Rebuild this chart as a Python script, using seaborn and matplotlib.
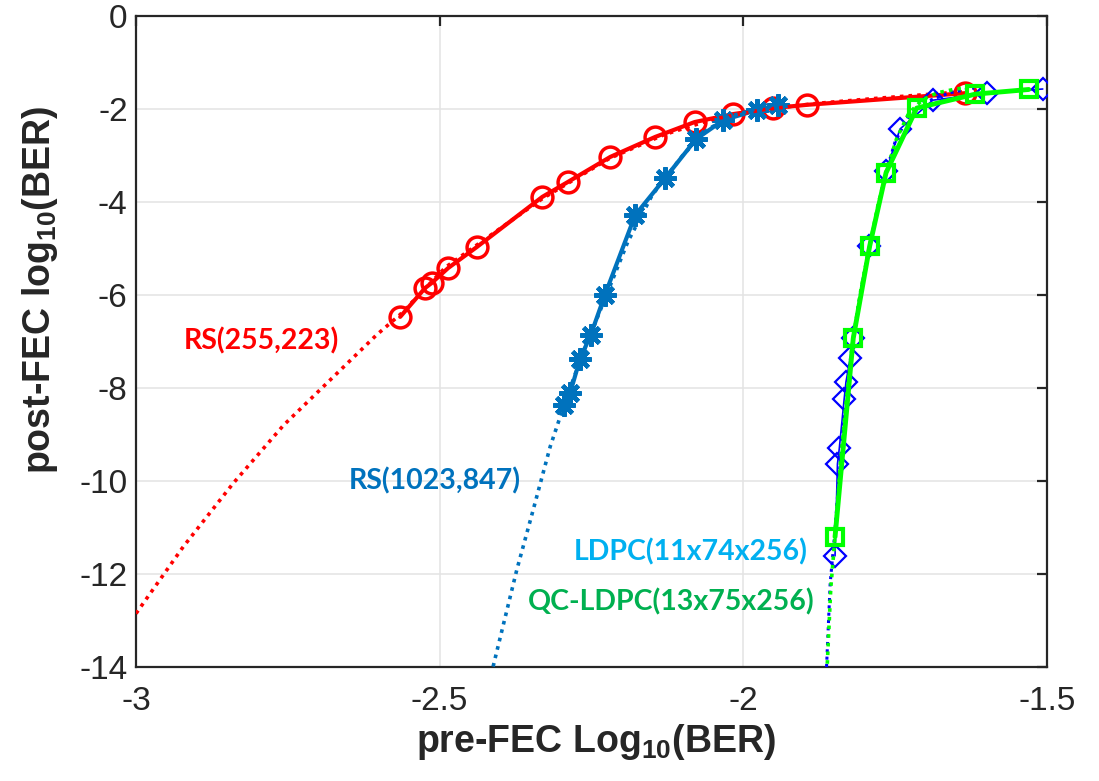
import matplotlib
matplotlib.use("Agg")
import matplotlib.pyplot as plt
import seaborn as sns

# RS(255,223) measured points and dotted fit
rs255_x = [-2.565, -2.524, -2.513, -2.486, -2.439, -2.331, -2.289, -2.219, -2.145,
           -2.080, -2.017, -1.951, -1.895, -1.635]
rs255_y = [-6.47, -5.85, -5.74, -5.42, -4.97, -3.89, -3.57, -3.03, -2.60,
           -2.28, -2.11, -1.98, -1.91, -1.66]
rs255_fit_x = [-3.000, -2.922, -2.840, -2.757, -2.675, -2.604, -2.565, -2.49, -2.42,
               -2.33, -2.22, -2.13, -2.05, -1.97, -1.88, -1.78, -1.64]
rs255_fit_y = [-12.85, -11.41, -10.05, -8.80, -7.76, -6.86, -6.42, -5.40, -4.75,
               -3.92, -3.06, -2.55, -2.22, -2.02, -1.88, -1.77, -1.63]

# RS(1023,847)
rs1023_x = [-2.296, -2.285, -2.269, -2.251, -2.228, -2.178, -2.129, -2.078, -2.033,
            -1.977, -1.943]
rs1023_y = [-8.37, -8.10, -7.38, -6.85, -6.00, -4.28, -3.49, -2.65, -2.24,
            -2.02, -1.91]
rs1023_fit_x = [-2.412, -2.373, -2.346, -2.318, -2.307, -2.296, -2.27, -2.23, -2.19,
                -2.15, -2.10, -2.06, -2.02, -1.98, -1.94]
rs1023_fit_y = [-13.99, -11.91, -10.62, -9.26, -8.83, -8.40, -7.45, -6.15, -4.85,
                -3.85, -3.00, -2.45, -2.15, -2.00, -1.90]

# LDPC(11x74x256)
ldpc_x = [-1.849, -1.845, -1.842, -1.834, -1.831, -1.824, -1.820, -1.793, -1.765,
          -1.742, -1.688, -1.598, -1.507]
ldpc_y = [-11.61, -9.63, -9.30, -8.24, -7.87, -7.36, -6.92, -4.95, -3.33,
          -2.43, -1.81, -1.66, -1.57]
ldpc_fit_x = [-1.863, -1.857, -1.850, -1.843, -1.835, -1.826, -1.818, -1.805, -1.792,
              -1.776, -1.765, -1.750, -1.730, -1.700, -1.660, -1.620]
ldpc_fit_y = [-14.0, -12.2, -11.2, -10.0, -8.8, -7.6, -6.8, -5.8, -4.9,
              -4.0, -3.35, -2.7, -2.2, -1.85, -1.65, -1.55]

# QC-LDPC(13x75x256)
qc_x = [-1.849, -1.819, -1.792, -1.765, -1.7145, -1.618, -1.530]
qc_y = [-11.20, -6.93, -4.95, -3.37, -1.98, -1.68, -1.58]
qc_fit_x = [-1.862, -1.856, -1.849, -1.840, -1.830, -1.819, -1.806, -1.792, -1.778,
            -1.765, -1.748, -1.728, -1.705, -1.680, -1.650, -1.630]
qc_fit_y = [-14.0, -12.3, -11.2, -9.6, -8.2, -6.93, -5.85, -4.95, -4.05,
            -3.37, -2.65, -2.10, -1.80, -1.65, -1.57, -1.54]

x_ticks = [-3, -2.5, -2, -1.5]
x_tick_labels = ['-3', '-2.5', '-2', '-1.5']
y_ticks = [0, -2, -4, -6, -8, -10, -12, -14]

RED = '#ff0000'
MBLUE = '#0072bd'
BLUE = '#0000ff'
GREEN = '#00ff00'
DOT = (0, (1, 1.4))

sns.set_theme(style='whitegrid')
plt.rcParams['font.family'] = ['Liberation Sans', 'DejaVu Sans']
plt.rcParams['axes.unicode_minus'] = False
plt.rcParams['mathtext.fontset'] = 'custom'
plt.rcParams['mathtext.bf'] = 'Liberation Sans:bold'
plt.rcParams['mathtext.rm'] = 'Liberation Sans'

fig = plt.figure(figsize=(10.99, 7.81), dpi=100)
ax = fig.add_axes([136 / 1099, 114 / 781, 911 / 1099, 651 / 781])

# RS(255,223)
sns.lineplot(x=rs255_x, y=rs255_y, sort=False, estimator=None, ax=ax, color=RED,
             lw=3, marker='o', markersize=15, mfc='none', mec=RED, mew=2.5, zorder=3)
sns.lineplot(x=rs255_fit_x, y=rs255_fit_y, sort=False, estimator=None, ax=ax,
             color=RED, lw=2.6, linestyle=DOT, zorder=4)

# RS(1023,847)
sns.lineplot(x=rs1023_x, y=rs1023_y, sort=False, estimator=None, ax=ax, color=MBLUE,
             lw=3, marker=(8, 2, 0), markersize=16, mec=MBLUE, mew=3.2, zorder=3)
sns.lineplot(x=rs1023_fit_x, y=rs1023_fit_y, sort=False, estimator=None, ax=ax,
             color=MBLUE, lw=2.6, linestyle=DOT, zorder=4)

# LDPC
sns.lineplot(x=ldpc_x, y=ldpc_y, sort=False, estimator=None, ax=ax, color=BLUE,
             lw=1.2, marker='D', markersize=11, mfc='none', mec=BLUE, mew=1.6, zorder=5)
sns.lineplot(x=ldpc_fit_x, y=ldpc_fit_y, sort=False, estimator=None, ax=ax,
             color=BLUE, lw=2.2, linestyle=DOT, zorder=5)

# QC-LDPC
sns.lineplot(x=qc_x, y=qc_y, sort=False, estimator=None, ax=ax, color=GREEN,
             lw=3.5, marker='s', markersize=12, mfc='none', mec=GREEN, mew=3, zorder=6)
sns.lineplot(x=qc_fit_x, y=qc_fit_y, sort=False, estimator=None, ax=ax,
             color=GREEN, lw=2.6, linestyle=(1.5, (1, 1.4)), zorder=6)

ax.set_xlim(-3, -1.5)
ax.set_ylim(-14, 0)
ax.set_xticks(x_ticks)
ax.set_xticklabels(x_tick_labels)
ax.set_yticks(y_ticks)
ax.grid(True, color='#e3e3e3', lw=1.1)
for s in ax.spines.values():
    s.set_visible(True)
    s.set_color('#262626')
    s.set_linewidth(1.6)
ax.tick_params(direction='in', length=7, width=1.6, colors='#262626',
               top=True, right=True, labelsize=24, labelcolor='#262626')
ax.tick_params(axis='x', pad=14)
ax.tick_params(axis='y', pad=6)

ax.set_xlabel(r'pre-FEC Log$_{\mathbf{10}}$(BER)', fontsize=27, fontweight='bold',
              color='#262626')
ax.set_ylabel(r'post-FEC log$_{\mathbf{10}}$(BER)', fontsize=27, fontweight='bold',
              color='#262626')
ax.xaxis.set_label_coords(0.505, -0.085)
ax.yaxis.set_label_coords(-0.083, 0.58)

lab = dict(family=['Lato', 'DejaVu Sans'], fontweight='bold', fontsize=20.5,
           va='center', ha='left')
ax.text(-2.921, -6.99, 'RS(255,223)', color=RED, **lab)
ax.text(-2.650, -10.0, 'RS(1023,847)', color=MBLUE, **lab)
ax.text(-2.280, -11.53, 'LDPC(11x74x256)', color='#00b0f0', **lab)
ax.text(-2.355, -12.6, 'QC-LDPC(13x75x256)', color='#00b050', **lab)

fig.savefig('out.png', dpi=100)
